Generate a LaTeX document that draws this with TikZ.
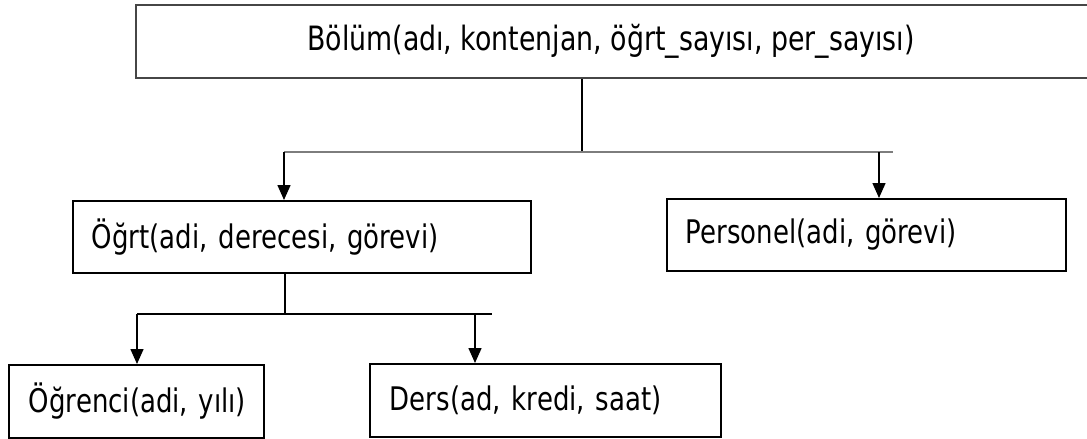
\documentclass[tikz,border=0pt]{standalone}
\usepackage{fontspec}
\setmainfont{DejaVu Sans}[FakeStretch=0.8]
\usetikzlibrary{arrows.meta}

\begin{document}
\begin{tikzpicture}[x=1pt,y=-1pt,
  entity/.style={draw=black,line width=1.8pt,rectangle,anchor=north west,
    minimum height=72pt,align=left,inner ysep=0pt,
    font=\fontsize{32.5}{36}\selectfont},
  topbox/.style={draw={rgb,255:red,70;green,70;blue,70},line width=2.4pt,rectangle,
    minimum height=73pt,inner sep=0pt,font=\fontsize{33.5}{37}\selectfont},
  trunk/.style={draw=black,line width=1.5pt},
  bar/.style={draw={rgb,255:red,125;green,125;blue,125},line width=2.6pt},
  branch/.style={draw=black,line width=1.6pt},
  arr/.style={draw=black,line width=1.5pt,-{Triangle[length=15pt,width=13pt]}}]

\useasboundingbox (0,0) rectangle (1087,439);

% top-level table (box runs past the right edge)
\node[topbox,minimum width=960pt] (bolum) at (616,41.5)
  {Bölüm(adı, kontenjan, öğrt\_sayısı, per\_sayısı)\hspace*{10pt}};

% second level
\node[entity,inner xsep=19pt,text width=420pt] (ogrt) at (72,200)
  {\mbox{Öğrt(adi, derecesi, görevi)}};
\node[entity,inner xsep=19pt,text width=361pt] (personel) at (666,198)
  {\mbox{Personel(adi, görevi)}};

% third level
\node[entity,inner xsep=20pt,text width=215pt,minimum height=73pt] (ogrenci) at (8,364)
  {\mbox{Öğrenci(adi, yılı)}};
\node[entity,inner xsep=20pt,text width=311pt,minimum height=73pt] (ders) at (369,363)
  {\mbox{Ders(ad, kredi, saat)}};

% junction points
\coordinate (j1) at (582,152);
\coordinate (b1L) at (284,152);
\coordinate (b1R) at (893,152);
\coordinate (p1) at (879,152);
\coordinate (j2) at (285,314);
\coordinate (b2L) at (137,314);
\coordinate (b2R) at (492,314);
\coordinate (d1) at (475,314);

% Bölüm -> Öğrt, Personel
\draw[trunk] (bolum.south -| j1) -- (j1);
\draw[bar] (b1L) -- (b1R);
\draw[arr] (b1L) -- (ogrt.north -| b1L);
\draw[arr] (p1) -- (personel.north -| p1);

% Öğrt -> Öğrenci, Ders
\draw[trunk] (ogrt.south -| j2) -- (j2);
\draw[branch] (b2L) -- (b2R);
\draw[arr] (b2L) -- (ogrenci.north -| b2L);
\draw[arr] (d1) -- (ders.north -| d1);
\end{tikzpicture}
\end{document}
